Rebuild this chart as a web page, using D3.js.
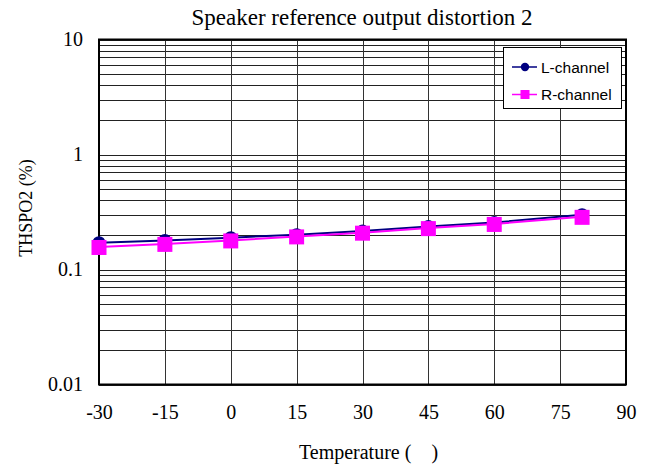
<!DOCTYPE html>
<html><head><meta charset="utf-8">
<script src="https://cdn.jsdelivr.net/npm/d3@7"></script>
<style>body{margin:0;background:#fff}svg{display:block}</style>
</head><body><svg id="c" width="659" height="466"></svg>
<script>
const temps = [-30, -15, 0, 15, 30, 45, 60, 80];
const lChannel = [0.171, 0.179, 0.189, 0.201, 0.216, 0.236, 0.256, 0.300];
const rChannel = [0.157, 0.167, 0.179, 0.194, 0.209, 0.229, 0.249, 0.287];
const xTicks = [-30, -15, 0, 15, 30, 45, 60, 75, 90];
const yTicks = [0.01, 0.1, 1, 10];
const yTickLabels = ["0.01", "0.1", "1", "10"];
const seriesNames = ["L-channel", "R-channel"];
const seriesColors = ["#000080", "#FF00FF"];

const svg = d3.select("#c");
const m = {l: 99, r: 626, t: 39.5, b: 384.5};
const x = d3.scaleLinear().domain([-30, 90]).range([m.l, m.r]);
const y = d3.scaleLog().domain([0.01, 10]).range([m.b, m.t]);
const serif = "'Liberation Serif','Times New Roman',serif";
const sans = "'Liberation Sans',Arial,sans-serif";

// minor + major horizontal grid
const hLines = [];
[0.01, 0.1, 1].forEach(d => { for (let k = 1; k <= 9; k++) hLines.push(d * k); });
hLines.push(10);
svg.append("g").selectAll("line").data(hLines).join("line")
  .attr("x1", m.l).attr("x2", m.r)
  .attr("y1", d => Math.round(y(d)) + 0.5).attr("y2", d => Math.round(y(d)) + 0.5)
  .attr("stroke", "#222").attr("stroke-width", 1);

// vertical grid
svg.append("g").selectAll("line").data(xTicks).join("line")
  .attr("x1", d => Math.round(x(d)) + 0.5).attr("x2", d => Math.round(x(d)) + 0.5)
  .attr("y1", m.t).attr("y2", m.b)
  .attr("stroke", "#333").attr("stroke-width", 1);

// frame
svg.append("rect").attr("x", m.l).attr("y", m.t).attr("width", m.r - m.l).attr("height", m.b - m.t)
  .attr("fill", "none").attr("stroke", "#000").attr("stroke-width", 2);

// axes labels
const xAxis = d3.axisBottom(x).tickValues(xTicks).tickSize(0).tickPadding(0).tickFormat(d => String(d));
const gx = svg.append("g").attr("transform", `translate(0,${m.b})`).call(xAxis);
gx.select(".domain").remove();
gx.selectAll("text").attr("dy", null).attr("y", 34.8).attr("font-family", serif).attr("font-size", 20).attr("fill", "#000");

const yAxis = d3.axisLeft(y).tickValues(yTicks).tickSize(0).tickPadding(16).tickFormat((d, i) => yTickLabels[i]);
const gy = svg.append("g").attr("transform", `translate(${m.l},0)`).call(yAxis);
gy.select(".domain").remove();
gy.selectAll("text").attr("font-family", serif).attr("font-size", 20).attr("fill", "#000");

// titles
svg.append("text").attr("x", 362).attr("y", 25).attr("text-anchor", "middle")
  .attr("font-family", serif).attr("font-size", 23).text("Speaker reference output distortion 2");
svg.append("text").attr("x", 368.5).attr("y", 459).attr("text-anchor", "middle")
  .attr("font-family", serif).attr("font-size", 20).attr("xml:space", "preserve").text("Temperature (    )");
svg.append("text").attr("transform", "translate(32,208) rotate(-90)").attr("text-anchor", "middle")
  .attr("font-family", serif).attr("font-size", 18).text("THSPO2 (%)");

// series
const data = [lChannel, rChannel];
const line = d3.line().x((d, i) => x(temps[i])).y(d => y(d));
data.forEach((s, k) => {
  svg.append("path").datum(s).attr("d", line).attr("fill", "none")
    .attr("stroke", seriesColors[k]).attr("stroke-width", 2);
});
// markers: L circles then R squares
svg.append("g").selectAll("circle").data(lChannel).join("circle")
  .attr("cx", (d, i) => x(temps[i])).attr("cy", d => y(d)).attr("r", 6.5)
  .attr("fill", seriesColors[0]);
svg.append("g").selectAll("rect").data(rChannel).join("rect")
  .attr("x", (d, i) => x(temps[i]) - 7.5).attr("y", d => y(d) - 7)
  .attr("width", 15).attr("height", 15).attr("fill", seriesColors[1]);

// legend
const lg = svg.append("g");
lg.append("rect").attr("x", 503.5).attr("y", 47.5).attr("width", 118).attr("height", 61)
  .attr("fill", "#fff").attr("stroke", "#000").attr("stroke-width", 1);
seriesNames.forEach((n, k) => {
  const yy = 67 + k * 27.5;
  lg.append("line").attr("x1", 512).attr("x2", 537).attr("y1", yy).attr("y2", yy)
    .attr("stroke", seriesColors[k]).attr("stroke-width", 1.5);
  if (k === 0) lg.append("circle").attr("cx", 525).attr("cy", yy).attr("r", 4.2).attr("fill", seriesColors[k]);
  else lg.append("rect").attr("x", 520.5).attr("y", yy - 4.5).attr("width", 9).attr("height", 9).attr("fill", seriesColors[k]);
  lg.append("text").attr("x", 541).attr("y", yy + 5.5).attr("font-family", sans).attr("font-size", 15.5).text(n);
});
</script></body></html>
